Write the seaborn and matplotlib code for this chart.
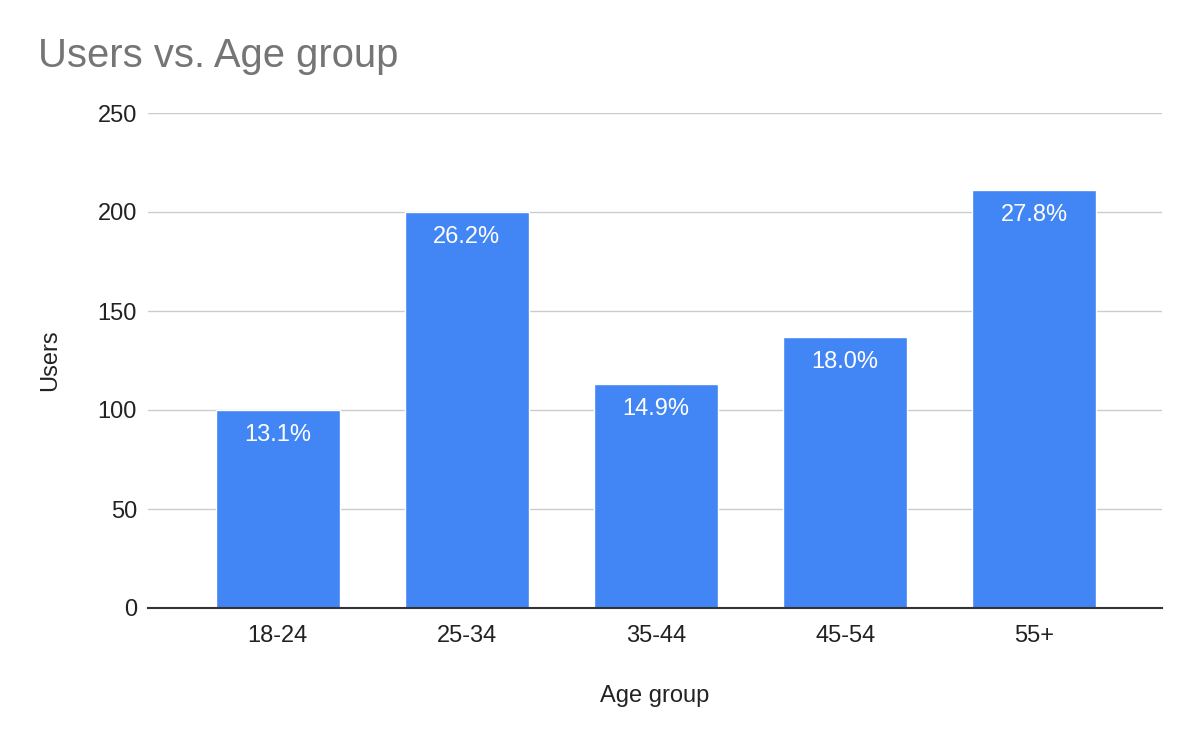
import matplotlib
matplotlib.use("Agg")
import matplotlib.pyplot as plt
import seaborn as sns
import pandas as pd

age_groups = ["18-24", "25-34", "35-44", "45-54", "55+"]
users = [100, 200, 113, 137, 211]
pct_labels = ["13.1%", "26.2%", "14.9%", "18.0%", "27.8%"]
y_ticks = [0, 50, 100, 150, 200, 250]

sns.set_theme(style="white")
plt.rcParams['font.family'] = ['Liberation Sans', 'DejaVu Sans']

df = pd.DataFrame({"Age group": age_groups, "Users": users})

fig = plt.figure(figsize=(12, 7.42), dpi=100)
ax = fig.add_axes([148/1200, 1 - 608/742, (1162-148)/1200, (608-113)/742])

sns.barplot(data=df, x="Age group", y="Users", color="#4285F4", width=0.655,
            saturation=1, ax=ax, zorder=3)

ax.set_ylim(0, 250)
ax.set_xlim(-0.685, 4.675)
ax.set_yticks(y_ticks)
ax.set_yticklabels([str(t) for t in y_ticks], fontsize=17, color="#222222")
ax.tick_params(axis="x", labelsize=17, colors="#222222", length=0, pad=12.5)
ax.tick_params(axis="y", length=0, pad=8)
ax.grid(axis="y", color="#cccccc", linewidth=1, zorder=0)
ax.set_axisbelow(True)
for s in ["top", "right", "left"]:
    ax.spines[s].set_visible(False)
ax.spines["bottom"].set_color("#333333")
ax.spines["bottom"].set_linewidth(1.5)
ax.spines["bottom"].set_zorder(5)

ax.set_xlabel("Age group", fontsize=17, color="#222222", labelpad=27)
ax.set_ylabel("Users", fontsize=17, color="#222222", labelpad=26)

for i, (v, lab) in enumerate(zip(users, pct_labels)):
    ax.annotate(lab, (i, v), xytext=(0, -10), textcoords="offset points",
                ha="center", va="top", color="white", fontsize=17, zorder=6)

fig.text(38/1200, 1 - 56/742, "Users vs. Age group", fontsize=28.8, color="#757575",
         ha="left", va="center")

fig.savefig("out.png", dpi=100, facecolor="white")
